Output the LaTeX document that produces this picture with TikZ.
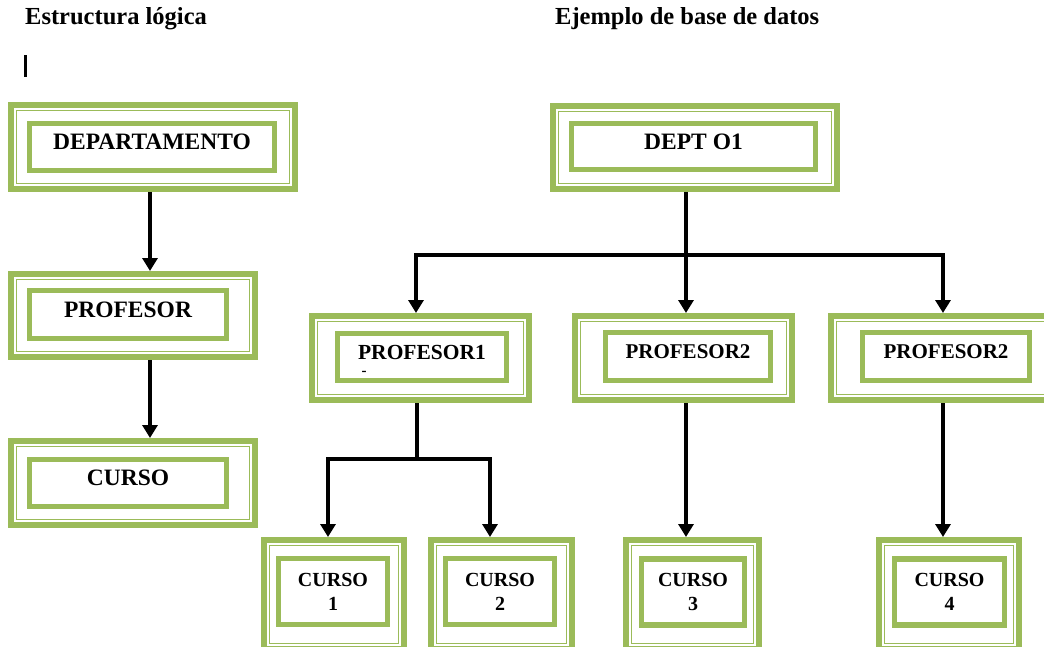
\documentclass[tikz,border=0pt]{standalone}
\usepackage{fontspec}
\setmainfont{Liberation Serif}
\usetikzlibrary{arrows.meta}
\definecolor{grn}{HTML}{9BBB59}
\tikzset{
   frame/.style={draw=grn, line width=6pt,
     path picture={\draw[grn, line width=1.5pt]
       ([shift={(5.5pt,5.5pt)}]path picture bounding box.south west) rectangle
       ([shift={(-5.5pt,-5.5pt)}]path picture bounding box.north east);}},
   card/.style={draw=grn, line width=5.5pt, inner sep=0pt,
     font=\bfseries\fontsize{23.5}{26}\selectfont, text depth=10pt},
   small card/.style={draw=grn, line width=5.5pt, inner sep=0pt, align=center,
     font=\bfseries\fontsize{20}{24}\selectfont},
   title/.style={anchor=base west, inner sep=0pt, font=\bfseries\fontsize{24.5}{27}\selectfont},
   link/.style={draw, line width=3.2pt, -{Triangle[length=13pt,width=15pt]}}
}
\begin{document}
\begin{tikzpicture}[x=1pt,y=-1pt]
   \useasboundingbox (0,0) rectangle (1044,647);
   \clip (0,0) rectangle (1044,647);
   \node (T1) [title] at (25,25) {Estructura lógica};
   \node (T2) [title] at (555,25) {Ejemplo de base de datos};
   \node (cursor) [fill=black, inner sep=0pt, minimum width=3pt, minimum height=22pt] at (25,66) {};
   % estructura
   \node (Dep)  [frame, minimum width=284, minimum height=84] at (153,147) {};
   \node (DepI) [card, minimum width=245, minimum height=47] at (152,147) {DEPARTAMENTO};
   \node (Prof)  [frame, minimum width=244, minimum height=83] at (133,315.5) {};
   \node (ProfI) [card, minimum width=197, minimum height=48] at (128,314.5) {PROFESOR};
   \node (Cur)  [frame, minimum width=244, minimum height=84] at (133,483) {};
   \node (CurI) [card, minimum width=197, minimum height=47] at (128,483) {CURSO};
   % ejemplo
   \node (Dept)  [frame, minimum width=284, minimum height=83] at (695,147.5) {};
   \node (DeptI) [card, minimum width=244, minimum height=46] at (693.5,146.5) {DEPT O1};
   \node (P1)  [frame, minimum width=217, minimum height=84] at (420.5,358) {};
   \node (P1I) [card, minimum width=169, minimum height=47, font=\bfseries\fontsize{21.5}{24}\selectfont] at (422,357) {PROFESOR1};
   \node (tick) [inner sep=0pt, font=\bfseries\fontsize{15}{16}\selectfont] at (364,373.5) {-};
   \node (P2)  [frame, minimum width=217, minimum height=84] at (683.5,358) {};
   \node (P2I) [card, minimum width=165, minimum height=48, font=\bfseries\fontsize{21}{24}\selectfont] at (688,356.5) {PROFESOR2};
   \node (P3)  [frame, minimum width=230, minimum height=84] at (946,358) {};
   \node (P3I) [card, minimum width=167, minimum height=48, font=\bfseries\fontsize{21}{24}\selectfont] at (946,356.5) {PROFESOR2};
   \node (C1)  [frame, minimum width=140, minimum height=109] at (334,594.5) {};
   \node (C1I) [small card, minimum width=109, minimum height=66] at (333,591.5) {CURSO\\1};
   \node (C2)  [frame, minimum width=141, minimum height=109] at (501.5,594.5) {};
   \node (C2I) [small card, minimum width=109, minimum height=66] at (500,591.5) {CURSO\\2};
   \node (C3)  [frame, minimum width=133, minimum height=109] at (692.5,594.5) {};
   \node (C3I) [small card, minimum width=103, minimum height=66] at (693,592) {CURSO\\3};
   \node (C4)  [frame, minimum width=140, minimum height=109] at (949,594.5) {};
   \node (C4I) [small card, minimum width=110, minimum height=66] at (949.5,592) {CURSO\\4};
   \coordinate (J1) at (686,255);
   \coordinate (J2) at (417,459);
   \draw[link] ([xshift=-3pt]Dep.south) -- ([xshift=17pt]Prof.north);
   \draw[link] ([xshift=17pt]Prof.south) -- ([xshift=17pt]Cur.north);
   \draw[link] ([xshift=-9pt]Dept.south) -- ([xshift=2.5pt]P2.north);
   \draw[link] (J1) -| ([xshift=-4.5pt]P1.north);
   \draw[link] (J1) -| ([xshift=-3pt]P3.north);
   \draw[link, -] ([xshift=-3.5pt]P1.south) -- (J2);
   \draw[link] (J2) -| ([xshift=-6pt]C1.north);
   \draw[link] (J2) -| ([xshift=-11.5pt]C2.north);
   \draw[link] ([xshift=2.5pt]P2.south) -- ([xshift=-6.5pt]C3.north);
   \draw[link] ([xshift=-3pt]P3.south) -- ([xshift=-6pt]C4.north);
\end{tikzpicture}
\end{document}
